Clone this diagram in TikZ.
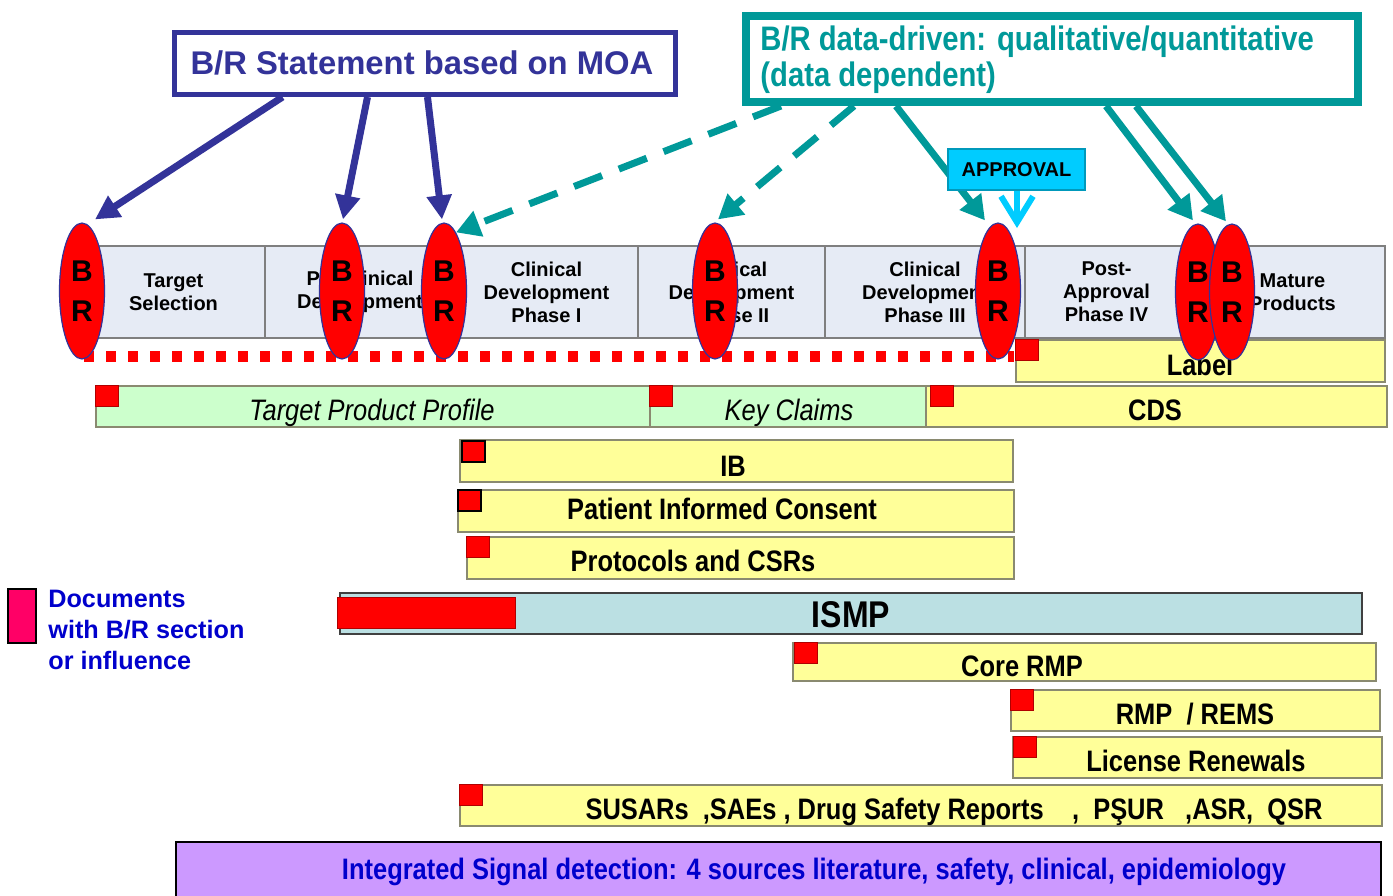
\documentclass[tikz,border=0pt]{standalone}
\usepackage{fontspec}
\setmainfont{Liberation Sans}
\newfontfamily\narrowfont[FakeStretch=0.86]{Liberation Sans}
\usetikzlibrary{arrows.meta,shapes.geometric,fit,calc}

\definecolor{brNavy}{HTML}{333399}
\definecolor{brTeal}{HTML}{009999}
\definecolor{cellFill}{HTML}{E6EBF5}
\definecolor{cellLine}{HTML}{7F7F7F}
\definecolor{barYellow}{HTML}{FFFF99}
\definecolor{barGreen}{HTML}{CCFFCC}
\definecolor{barLine}{HTML}{8A8A70}
\definecolor{ismpFill}{HTML}{BBE0E3}
\definecolor{sigPurple}{HTML}{CC99FF}
\definecolor{legendPink}{HTML}{FF0066}
\definecolor{apprBlue}{HTML}{00CCFF}
\definecolor{apprLine}{HTML}{0099BB}
\definecolor{docBlue}{HTML}{0000CC}
\definecolor{flagLine}{HTML}{B00000}

\begin{document}
\begin{tikzpicture}[x=0.5pt,y=-0.5pt,
  phase/.style={draw=cellLine,fill=cellFill,line width=0.6pt,inner sep=0pt},
  phasetext/.style={inner sep=0pt,align=center,
    font=\bfseries\fontsize{10}{11.5}\selectfont},
  brell/.style={ellipse,draw=brNavy,line width=0.6pt,fill=red,
    minimum width=22.5pt,minimum height=68pt,inner sep=0pt,
    font=\bfseries\fontsize{15}{20}\selectfont,align=center},
  docbar/.style={draw=barLine,line width=0.8pt,inner sep=0pt},
  yellowbar/.style={docbar,fill=barYellow},
  greenbar/.style={docbar,fill=barGreen},
  bartext/.style={anchor=base,inner sep=0pt,font=\narrowfont\bfseries\fontsize{14.8}{16}\selectfont},
  italtext/.style={anchor=base,inner sep=0pt,font=\narrowfont\itshape\fontsize{14.8}{16}\selectfont},
  flag/.style={fill=red,draw=flagLine,line width=0.5pt,minimum width=11.5pt,
    minimum height=10.5pt,inner sep=0pt,anchor=north west},
  blackflag/.style={flag,draw=black,line width=0.8pt},
  navyarrow/.style={draw=brNavy,line width=3.5pt,-{Triangle[length=12pt,width=12pt]}},
  tealarrow/.style={draw=brTeal,line width=3.5pt,-{Triangle[length=12pt,width=13pt]}},
  tealdashed/.style={tealarrow,dash pattern=on 15pt off 9pt},
  dotline/.style={draw=red,line width=5.5pt,dash pattern=on 5pt off 6pt}
]
\useasboundingbox (0,0) rectangle (1393,895);
\clip (0,0) rectangle (1393,895);

% development phases
\node[phase,fit={(82,246) (265,338)}]    (ph1) {};
\node[phase,fit={(265,246) (455,338)}]   (ph2) {};
\node[phase,fit={(455,246) (638,338)}]   (ph3) {};
\node[phase,fit={(638,246) (825,338)}]   (ph4) {};
\node[phase,fit={(825,246) (1025,338)}]  (ph5) {};
\node[phase,fit={(1025,246) (1200,338)}] (ph6) {};
\node[phase,fit={(1200,246) (1385,338)}] (ph7) {};
\node[phasetext] (pt1) at (ph1.center) {Target\\Selection};
\node[phasetext] (pt2) at (ph2.center) {Pre-clinical\\Development};
\node[phasetext] (pt3) at (ph3.center) {Clinical\\Development\\Phase I};
\node[phasetext] (pt4) at (ph4.center) {Clinical\\Development\\Phase II};
\node[phasetext] (pt5) at (ph5.center) {Clinical\\Development\\Phase III};
\node[phasetext] (pt6) at ($(ph6.center)+(-6,0)$) {Post-\\Approval\\Phase IV};
\node[phasetext] (pt7) at (ph7.center) {Mature\\Products};

% documents along the timeline
\node[yellowbar,fit={(1016,340) (1385,382)}] (label) {};
\node[flag] (fl-label) at (label.north west) {};
\node[bartext] (t-label) at (1200,375) {Label};

\coordinate (dotL) at (84,356);
\coordinate (dotR) at (1014,356);
\draw[dotline] (dotL) -- (dotR);

\node[greenbar,fit={(96,386) (650,427)}] (tpp) {};
\node[flag] (fl-tpp) at (tpp.north west) {};
\node[italtext] (t-tpp) at (372,420) {Target Product Profile};

\node[greenbar,fit={(650,386) (926,427)}] (keyc) {};
\node[flag] (fl-keyc) at (keyc.north west) {};
\node[italtext] (t-keyc) at (789,420) {Key Claims};

\node[yellowbar,fit={(926,386) (1387,427)}] (cds) {};
\node[flag] (fl-cds) at ($(cds.north west)+(5,0)$) {};
\node[bartext] (t-cds) at (1155,420) {CDS};

\node[yellowbar,fit={(460,440) (1013,482)}] (ib) {};
\node[blackflag] (fl-ib) at ($(ib.north west)+(2,1)$) {};
\node[bartext] (t-ib) at (733,476) {IB};

\node[yellowbar,fit={(458,490) (1014,532)}] (pic) {};
\node[blackflag] (fl-pic) at (pic.north west) {};
\node[bartext] (t-pic) at (722,519) {Patient Informed Consent};

\node[yellowbar,fit={(467,537) (1014,579)}] (prot) {};
\node[flag] (fl-prot) at (prot.north west) {};
\node[bartext] (t-prot) at (693,571) {Protocols and CSRs};

\node[draw=black!75,fill=ismpFill,line width=1pt,inner sep=0pt,fit={(340,593) (1362,634)}] (ismp) {};
\node[fill=red,draw=flagLine,line width=0.5pt,inner sep=0pt,fit={(337,597) (515,628)}] (fl-ismp) {};
\node[bartext,font=\narrowfont\bfseries\fontsize{18.6}{20}\selectfont] (t-ismp) at (851,627) {ISMP};

\node[yellowbar,fit={(793,643) (1376,681)}] (crmp) {};
\node[flag] (fl-crmp) at ($(crmp.north west)+(2,0)$) {};
\node[bartext] (t-crmp) at (1022,676) {Core RMP};

\node[yellowbar,fit={(1011,690) (1380,731)}] (rems) {};
\node[flag] (fl-rems) at (rems.north west) {};
\node[bartext] (t-rems) at (1195,724) {RMP~~/ REMS};

\node[yellowbar,fit={(1013,737) (1382,778)}] (lic) {};
\node[flag] (fl-lic) at ($(lic.north west)+(1,0)$) {};
\node[bartext] (t-lic) at (1196,771) {License Renewals};

\node[yellowbar,fit={(460,785) (1382,826)}] (susar) {};
\node[flag] (fl-susar) at (susar.north west) {};
\node[bartext] (t-susar) at (954,819) {SUSARs~~,SAEs~, Drug Safety Reports~~~~,~~PŞUR~~~,ASR,~~QSR};

% benefit/risk assessment points
\node[brell] (e1) at (82,291)   {B\\R};
\node[brell] (e2) at (342,291)  {B\\R};
\node[brell] (e3) at (444,291)  {B\\R};
\node[brell] (e4) at (715,291)  {B\\R};
\node[brell] (e5) at (998,291)  {B\\R};
\node[brell] (e6) at (1198,292) {B\\R};
\node[brell] (e7) at (1232,292) {B\\R};

% headline boxes
\node[draw=brNavy,line width=2.5pt,fill=white,inner sep=0pt,
  fit={(174.5,32.5) (675.5,94.5)}] (moa) {};
\node[inner sep=0pt,font=\bfseries\fontsize{16.4}{18}\selectfont,text=brNavy]
  (t-moa) at ($(moa.center)+(-3,-1)$) {B/R Statement based on MOA};

\node[draw=brTeal,line width=4pt,fill=white,inner sep=0pt,fit={(746,16) (1358,102)}] (data) {};
\node[anchor=north west,inner sep=0pt,align=left,text=brTeal,
  font=\narrowfont\bfseries\fontsize{17}{18}\selectfont] (t-data) at (760,25)
  {B/R data-driven: qualitative/quantitative\\(data dependent)};

% statement-based arrows
\draw[navyarrow] ($(moa.south west)+(110.5,0)$) -- ($(e1.north)+(13,-3)$);
\draw[navyarrow] ($(moa.south west)+(195.5,0)$) -- ($(e2.north)+(1,-3)$);
\draw[navyarrow] ($(moa.south west)+(255.5,0)$) -- ($(e3.north)+(-2,-3)$);

% data-driven arrows
\draw[tealdashed] ($(data.south west)+(39,0)$)  -- ($(e3.north)+(12,10)$);
\draw[tealdashed] ($(data.south west)+(112,0)$) -- ($(e4.north)+(3,-3)$);
\draw[tealarrow]  ($(data.south west)+(154,0)$) -- ($(e5.north)+(-13,-2)$);
\draw[tealarrow]  ($(data.south west)+(364,0)$) -- ($(e6.north)+(-5,-3)$);
\draw[tealarrow]  ($(data.south west)+(394,0)$) -- ($(e7.north)+(-6,-2)$);

% approval milestone
\node[draw=apprLine,fill=apprBlue,line width=0.8pt,inner sep=0pt,
  fit={(948,149) (1085,190)}] (appr) {};
\node[inner sep=0pt,font=\bfseries\fontsize{10}{12}\selectfont] (t-appr) at (appr.center) {APPROVAL};
\coordinate (apprTip) at (1017,228);
\draw[apprBlue,line width=3pt,-{Straight Barb[length=13pt,width=16pt]}] (appr.south -| apprTip) -- (apprTip);

% legend
\node[draw=black,fill=legendPink,line width=1pt,inner sep=0pt,fit={(8,589) (36,643)}] (legsq) {};
\node[anchor=north west,inner sep=0pt,align=left,text=docBlue,
  font=\bfseries\fontsize{12.6}{15.5}\selectfont] (legtext) at (48,590)
  {Documents\\with B/R section\\or influence};

% signal detection
\node[draw=black,fill=sigPurple,line width=1pt,inner sep=0pt,fit={(176,842) (1381,910)}] (signal) {};
\node[bartext,text=docBlue] (t-signal) at (814,879)
  {Integrated Signal detection: 4 sources literature, safety, clinical, epidemiology};
\end{tikzpicture}
\end{document}
